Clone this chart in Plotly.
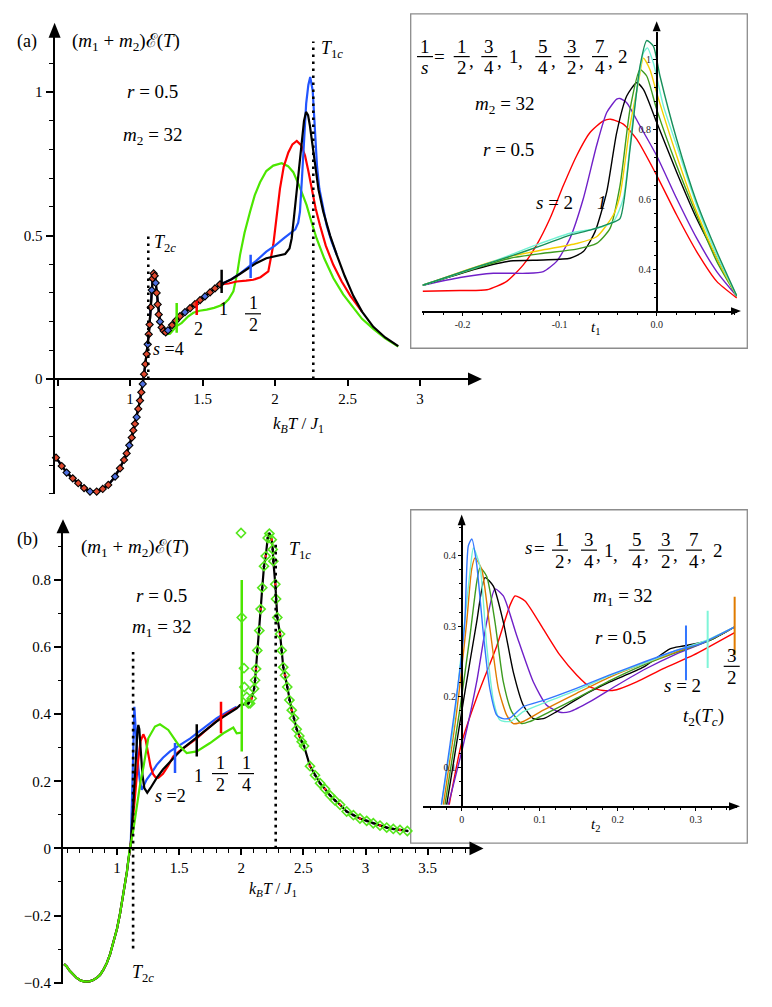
import plotly.graph_objects as go

W, H = 772, 1007
SERIF = "Liberation Serif"

# ---------------- panel (a) main : m2 = 32, r = 0.5 ----------------
# shared low-T branch (diamond points sit on it)
a_common_x = [0.49, 0.529, 0.563, 0.605, 0.643, 0.683, 0.724, 0.770, 0.812, 0.850,
              0.897, 0.931, 0.959, 0.977, 0.995, 1.012, 1.023, 1.034, 1.046, 1.057,
              1.069, 1.078, 1.088, 1.097, 1.106, 1.115, 1.122, 1.129, 1.135, 1.143,
              1.150, 1.156, 1.163, 1.170, 1.177, 1.184, 1.191, 1.198, 1.207, 1.218,
              1.232, 1.246, 1.262, 1.290, 1.317, 1.345, 1.379, 1.414, 1.448, 1.483,
              1.517, 1.552, 1.586, 1.621]
a_common_y = [-0.274, -0.303, -0.326, -0.346, -0.363, -0.380, -0.392, -0.392, -0.383, -0.369,
              -0.340, -0.311, -0.282, -0.259, -0.231, -0.204, -0.179, -0.156, -0.133, -0.104,
              -0.075, -0.046, -0.017, 0.017, 0.052, 0.087, 0.121, 0.156, 0.190, 0.250,
              0.310, 0.350, 0.368, 0.360, 0.335, 0.300, 0.260, 0.225, 0.200, 0.180,
              0.168, 0.163, 0.170, 0.188, 0.204, 0.219, 0.233, 0.247, 0.261, 0.275,
              0.288, 0.302, 0.316, 0.330]

a_black_x = [1.66, 1.70, 1.76, 1.81, 1.87, 1.94, 1.99, 2.03, 2.07, 2.10, 2.115, 2.13, 2.15,
             2.17, 2.184, 2.20, 2.214, 2.228, 2.241, 2.26, 2.276, 2.30, 2.333, 2.38, 2.426,
             2.48, 2.54, 2.60, 2.678, 2.76, 2.85]
a_black_y = [0.338, 0.348, 0.367, 0.385, 0.404, 0.421, 0.427, 0.430, 0.436, 0.455, 0.490, 0.56,
             0.663, 0.77, 0.836, 0.90, 0.931, 0.92, 0.882, 0.81, 0.744, 0.66, 0.583, 0.50, 0.433,
             0.36, 0.29, 0.235, 0.182, 0.145, 0.115]

a_blue_x = [1.66, 1.70, 1.76, 1.81, 1.87, 1.94, 2.00, 2.06, 2.10, 2.14, 2.16, 2.172, 2.186,
            2.20, 2.215, 2.23, 2.243, 2.26, 2.276, 2.29, 2.306, 2.33, 2.356, 2.39, 2.426]
a_blue_y = [0.338, 0.348, 0.368, 0.387, 0.412, 0.444, 0.465, 0.490, 0.505, 0.522, 0.545, 0.583,
            0.70, 0.836, 0.96, 1.025, 1.053, 1.005, 0.836, 0.74, 0.663, 0.595, 0.536, 0.48, 0.433]

a_red_x = [1.68, 1.736, 1.80, 1.85, 1.90, 1.954, 1.988, 2.01, 2.034, 2.06, 2.092, 2.12, 2.150,
           2.18, 2.207, 2.23, 2.253, 2.28, 2.310, 2.35, 2.402, 2.46, 2.52, 2.60]
a_red_y = [0.333, 0.340, 0.343, 0.346, 0.355, 0.375, 0.467, 0.56, 0.663, 0.74, 0.790, 0.818, 0.830,
           0.815, 0.779, 0.725, 0.663, 0.595, 0.536, 0.465, 0.398, 0.34, 0.29, 0.235]

a_green_x = [1.25, 1.276, 1.30, 1.322, 1.357, 1.40, 1.437, 1.48, 1.529, 1.58, 1.644, 1.68, 1.713,
             1.74, 1.759, 1.79, 1.828, 1.86, 1.897, 1.94, 1.988, 2.046, 2.09, 2.126, 2.17, 2.218,
             2.25, 2.287, 2.34, 2.402, 2.47, 2.540, 2.60, 2.678, 2.76, 2.85]
a_green_y = [0.156, 0.158, 0.172, 0.185, 0.196, 0.218, 0.231, 0.238, 0.242, 0.248, 0.260, 0.278, 0.306,
             0.37, 0.433, 0.51, 0.583, 0.64, 0.686, 0.725, 0.744, 0.752, 0.742, 0.721, 0.67, 0.606,
             0.55, 0.490, 0.42, 0.352, 0.295, 0.248, 0.21, 0.175, 0.142, 0.113]

a_bar_x = [1.322, 1.46, 1.632, 1.832]
a_bar_lo = [0.161, 0.223, 0.300, 0.352]
a_bar_hi = [0.265, 0.273, 0.381, 0.433]
a_bar_c = ["#4ce600", "#ff0000", "#000000", "#2255ff"]

a_T2c, a_T2c_top = 1.126, 0.50
a_T1c, a_T1c_top = 2.264, 1.176

# ---------------- panel (a) inset : against t1 ----------------
ia_red_x = [-0.2412, -0.2027, -0.175, -0.1546, -0.1375, -0.1237, -0.110, -0.0962, -0.0825, -0.0687,
            -0.055, -0.0474, -0.0344, -0.0206, 0.0, 0.0206, 0.0412, 0.0619, 0.0825]
ia_red_y = [0.339, 0.341, 0.343, 0.367, 0.414, 0.471, 0.546, 0.640, 0.725, 0.791,
            0.824, 0.829, 0.815, 0.772, 0.669, 0.556, 0.452, 0.367, 0.320]
ia_purple_x = [-0.2412, -0.2027, -0.1684, -0.134, -0.1168, -0.1031, -0.0893, -0.0756, -0.0619, -0.0515,
               -0.0412, -0.0378, -0.0309, -0.0172, 0.0, 0.0206, 0.0412, 0.0619, 0.0825]
ia_purple_y = [0.356, 0.378, 0.390, 0.390, 0.395, 0.424, 0.490, 0.603, 0.754, 0.848,
               0.886, 0.888, 0.876, 0.810, 0.725, 0.603, 0.490, 0.395, 0.325]
ia_black_x = [-0.2412, -0.1856, -0.1512, -0.1168, -0.0893, -0.0756, -0.0636, -0.0515, -0.0412, -0.0309,
              -0.0206, -0.0137, 0.0, 0.0206, 0.0412, 0.0619, 0.0825]
ia_black_y = [0.356, 0.403, 0.425, 0.428, 0.433, 0.452, 0.508, 0.622, 0.791, 0.895,
              0.933, 0.914, 0.820, 0.678, 0.546, 0.433, 0.325]
ia_green_x = [-0.2412, -0.1856, -0.1512, -0.1168, -0.0825, -0.0619, -0.0481, -0.0378, -0.0275, -0.0172,
              -0.0103, 0.0, 0.0206, 0.0412, 0.0619, 0.0825]
ia_green_y = [0.356, 0.405, 0.433, 0.447, 0.459, 0.475, 0.518, 0.640, 0.857, 0.970,
              0.952, 0.857, 0.697, 0.556, 0.424, 0.325]
ia_gold_x = [-0.2412, -0.1856, -0.1512, -0.1168, -0.0825, -0.0619, -0.0447, -0.0378, -0.0275, -0.0189,
             -0.0137, -0.0069, 0.0, 0.0206, 0.0412, 0.0619, 0.0825]
ia_gold_y = [0.356, 0.409, 0.438, 0.457, 0.475, 0.494, 0.556, 0.612, 0.810, 0.933,
             1.003, 0.970, 0.904, 0.725, 0.565, 0.433, 0.325]
ia_aqua_x = [-0.2412, -0.1856, -0.1512, -0.124, -0.0893, -0.0619, -0.0447, -0.0344, -0.0241, -0.0137,
             -0.0096, -0.0034, 0.0069, 0.0206, 0.0412, 0.0619, 0.0825]
ia_aqua_y = [0.356, 0.407, 0.442, 0.471, 0.504, 0.518, 0.537, 0.603, 0.838, 1.018,
             1.032, 0.989, 0.867, 0.754, 0.584, 0.442, 0.325]
ia_teal_x = [-0.2412, -0.1856, -0.1512, -0.1168, -0.0893, -0.0687, -0.0481, -0.0378, -0.0275, -0.0172,
             -0.0103, -0.0034, 0.0034, 0.0206, 0.0412, 0.0619, 0.0825]
ia_teal_y = [0.356, 0.408, 0.438, 0.471, 0.499, 0.513, 0.532, 0.546, 0.744, 0.980,
             1.053, 1.037, 0.952, 0.772, 0.593, 0.452, 0.326]

# ---------------- panel (b) main : m1 = 32, r = 0.5 ----------------
b_common_x = [0.575, 0.596, 0.62, 0.65, 0.676, 0.71, 0.743, 0.78, 0.81, 0.84, 0.864, 0.89,
              0.918, 0.945, 0.971, 1.00, 1.025, 1.045, 1.065, 1.08, 1.091, 1.10]
b_common_y = [-0.345, -0.352, -0.365, -0.377, -0.386, -0.394, -0.397, -0.396, -0.392, -0.385,
              -0.377, -0.362, -0.342, -0.315, -0.283, -0.24, -0.194, -0.152, -0.106, -0.07,
              -0.037, -0.01]

b_black_x = [1.111, 1.13, 1.15, 1.165, 1.172, 1.18, 1.19, 1.205, 1.22, 1.244, 1.27, 1.32, 1.37,
             1.427, 1.48, 1.534, 1.59, 1.642, 1.70, 1.749, 1.80, 1.856, 1.91, 1.963]
b_black_y = [0.013, 0.12, 0.26, 0.35, 0.368, 0.355, 0.30, 0.22, 0.18, 0.166, 0.18, 0.210, 0.235,
             0.259, 0.279, 0.299, 0.316, 0.333, 0.348, 0.363, 0.378, 0.392, 0.405, 0.417]
b_blue_x = [1.111, 1.125, 1.14, 1.15, 1.16, 1.172, 1.185, 1.199, 1.22, 1.239, 1.28, 1.320, 1.37,
            1.427, 1.48, 1.534, 1.59, 1.642, 1.72, 1.803, 1.88, 1.963]
b_blue_y = [0.013, 0.20, 0.422, 0.36, 0.29, 0.240, 0.20, 0.175, 0.19, 0.205, 0.226, 0.249, 0.270,
            0.289, 0.302, 0.314, 0.328, 0.343, 0.365, 0.388, 0.405, 0.422]
b_red_x = [1.111, 1.13, 1.15, 1.17, 1.19, 1.212, 1.23, 1.25, 1.27, 1.29, 1.31, 1.333, 1.37, 1.41,
           1.453, 1.50, 1.56, 1.642, 1.70, 1.76, 1.829, 1.90, 1.963]
b_red_y = [0.013, 0.09, 0.18, 0.26, 0.32, 0.340, 0.325, 0.285, 0.245, 0.222, 0.212, 0.210, 0.222,
           0.245, 0.274, 0.289, 0.305, 0.328, 0.347, 0.366, 0.388, 0.405, 0.419]
b_green_x = [1.13, 1.16, 1.19, 1.212, 1.252, 1.306, 1.346, 1.413, 1.494, 1.561, 1.642, 1.749,
             1.856, 1.936, 1.963, 2.004]
b_green_y = [0.05, 0.13, 0.20, 0.24, 0.328, 0.363, 0.370, 0.353, 0.309, 0.284, 0.289, 0.314,
             0.343, 0.360, 0.343, 0.345]

# high-T branch shared by all s (diamond points sit on it)
b_tail_x = [1.963, 1.99, 2.03, 2.057, 2.084, 2.103, 2.111, 2.119, 2.129, 2.145, 2.156, 2.169, 2.183,
            2.197, 2.213, 2.226, 2.245, 2.253, 2.258, 2.274, 2.280, 2.290, 2.312, 2.325, 2.338,
            2.352, 2.370, 2.387, 2.406, 2.424, 2.446, 2.467, 2.486, 2.505, 2.553, 2.593, 2.634,
            2.674, 2.714, 2.754, 2.795, 2.848, 2.902, 2.955, 3.009, 3.062, 3.116, 3.170, 3.223,
            3.277, 3.336]
b_tail_y = [0.418, 0.427, 0.430, 0.432, 0.447, 0.476, 0.501, 0.535, 0.590, 0.649, 0.713, 0.777, 0.841,
            0.871, 0.925, 0.938, 0.920, 0.891, 0.856, 0.787, 0.743, 0.688, 0.639, 0.590, 0.540,
            0.516, 0.481, 0.442, 0.412, 0.388, 0.355, 0.335, 0.318, 0.305, 0.245, 0.218, 0.194,
            0.177, 0.158, 0.143, 0.130, 0.110, 0.099, 0.089, 0.082, 0.075, 0.068, 0.062, 0.058,
            0.055, 0.052]
b_spike_x = [1.998, 2.004, 2.022, 2.025, 2.044, 2.071]
b_spike_y = [0.940, 0.688, 0.537, 0.481, 0.451, 0.432]

b_bar_x = [1.467, 1.642, 1.837, 2.004]
b_bar_lo = [0.225, 0.274, 0.343, 0.289]
b_bar_hi = [0.314, 0.370, 0.437, 0.800]
b_bar_c = ["#2255ff", "#000000", "#ff0000", "#4ce600"]

b_T2c, b_T2c_lo, b_T2c_hi = 1.13, -0.298, 0.585
b_T1c, b_T1c_hi = 2.277, 0.915

# ---------------- panel (b) inset : against t2 ----------------
ib_blue_x = [-0.026, -0.015, -0.002, 0.004, 0.0085, 0.013, 0.019, 0.028, 0.036, 0.045, 0.053, 0.062,
             0.079, 0.105, 0.147, 0.190, 0.233, 0.276, 0.306, 0.350]
ib_blue_y = [0.047, 0.132, 0.240, 0.306, 0.414, 0.424, 0.390, 0.287, 0.212, 0.174, 0.169, 0.170,
             0.186, 0.195, 0.212, 0.231, 0.249, 0.266, 0.275, 0.299]
ib_aqua_x = [-0.026, -0.011, 0.002, 0.011, 0.015, 0.0235, 0.032, 0.041, 0.049, 0.062, 0.079, 0.105,
             0.147, 0.190, 0.233, 0.276, 0.316, 0.350]
ib_aqua_y = [0.047, 0.155, 0.287, 0.381, 0.411, 0.385, 0.273, 0.193, 0.167, 0.165, 0.179, 0.191,
             0.209, 0.230, 0.247, 0.266, 0.281, 0.299]
ib_orange_x = [-0.0235, -0.0064, 0.0064, 0.0128, 0.0171, 0.0256, 0.0363, 0.047, 0.0577, 0.0662,
               0.079, 0.1047, 0.1474, 0.190, 0.233, 0.2756, 0.318, 0.350]
ib_orange_y = [0.047, 0.179, 0.306, 0.381, 0.397, 0.381, 0.296, 0.212, 0.174, 0.162,
               0.165, 0.181, 0.205, 0.228, 0.247, 0.264, 0.281, 0.299]
ib_green_x = [-0.0214, -0.0021, 0.0107, 0.0192, 0.0235, 0.032, 0.0427, 0.0534, 0.0641, 0.0769,
              0.0876, 0.1132, 0.1474, 0.190, 0.233, 0.2756, 0.318, 0.350]
ib_green_y = [0.047, 0.184, 0.287, 0.362, 0.383, 0.371, 0.306, 0.221, 0.179, 0.162,
              0.165, 0.179, 0.198, 0.223, 0.245, 0.263, 0.280, 0.299]
ib_black_x = [-0.0192, 0.0021, 0.0192, 0.0299, 0.0406, 0.0534, 0.0662, 0.079, 0.0919, 0.1047,
              0.1218, 0.156, 0.190, 0.233, 0.267, 0.284, 0.318, 0.350]
ib_black_y = [0.047, 0.193, 0.306, 0.369, 0.357, 0.306, 0.235, 0.188, 0.169, 0.169,
              0.179, 0.202, 0.221, 0.242, 0.268, 0.272, 0.280, 0.299]
ib_purple_x = [-0.0171, 0.0021, 0.0192, 0.032, 0.0427, 0.0534, 0.0705, 0.0919, 0.109, 0.126,
               0.1389, 0.1645, 0.1987, 0.233, 0.2756, 0.318, 0.350]
ib_purple_y = [0.047, 0.132, 0.221, 0.306, 0.353, 0.343, 0.287, 0.221, 0.188, 0.178,
               0.179, 0.193, 0.216, 0.238, 0.261, 0.280, 0.299]
ib_red_x = [-0.016, 0.0, 0.019, 0.045, 0.062, 0.0684, 0.0812, 0.1047, 0.126, 0.1474, 0.1645,
            0.1816, 0.1987, 0.2244, 0.2585, 0.297, 0.350]
ib_red_y = [0.047, 0.135, 0.198, 0.272, 0.330, 0.343, 0.336, 0.296, 0.259, 0.231, 0.214,
            0.209, 0.210, 0.221, 0.240, 0.259, 0.291]

ib_bar_x = [0.2876, 0.3154, 0.350]
ib_bar_lo = [0.2235, 0.241, 0.259]
ib_bar_hi = [0.301, 0.322, 0.342]
ib_bar_c = ["#3377ff", "#7ff5d8", "#e07b00"]

RED, BLUE, GREEN = "#ff0000", "#2255ff", "#4ce600"
PURPLE, OLIVE, GOLD, AQUA, TEAL = "#7020c8", "#3d9b1f", "#f5d000", "#72f2d4", "#178f5a"
ORANGE, LBLUE = "#e07b00", "#3377ff"

# ---------------- layout helpers (pixel frame of the figure) ----------------
panels = {
    # name: (px left, px right, px top, px bottom, x range, y range)
    "a": (54.6, 472.2, 37.0, 497.3, [0.48, 3.36], [-0.40, 1.193]),
    "ai": (422.4, 737.0, 32.0, 313.3, [-0.2415, 0.0828], [0.2823, 1.078]),
    "b": (63.0, 470.0, 536.0, 991.2, [0.566, 3.840], [-0.405, 0.942]),
    "bi": (423.0, 737.0, 528.0, 812.0, [-0.0496, 0.353], [0.0446, 0.4446]),
}


def px_of(p, xv):
    l, r, t, b, xr, yr = panels[p]
    return l + (xv - xr[0]) / (xr[1] - xr[0]) * (r - l)


def py_of(p, yv):
    l, r, t, b, xr, yr = panels[p]
    return t + (yr[1] - yv) / (yr[1] - yr[0]) * (b - t)


fig = go.Figure()
AX = {"a": ("x", "y"), "ai": ("x2", "y2"), "b": ("x3", "y3"), "bi": ("x4", "y4")}


def curve(p, x, y, color, width=2.2, shape="linear"):
    xa, ya = AX[p]
    fig.add_trace(go.Scatter(x=x, y=y, mode="lines", xaxis=xa, yaxis=ya,
                             line=dict(color=color, width=width, shape=shape, smoothing=0.6),
                             hoverinfo="skip", showlegend=False))


def bars(p, xs, lo, hi, colors, width=2.5):
    xa, ya = AX[p]
    for xv, a, b, c in zip(xs, lo, hi, colors):
        fig.add_trace(go.Scatter(x=[xv, xv], y=[a, b], mode="lines", xaxis=xa, yaxis=ya,
                                 line=dict(color=c, width=width), hoverinfo="skip", showlegend=False))


def dotted(p, xv, lo, hi):
    xa, ya = AX[p]
    fig.add_trace(go.Scatter(x=[xv, xv], y=[lo, hi], mode="lines", xaxis=xa, yaxis=ya,
                             line=dict(color="black", width=2.6, dash="2.6px,4.4px"),
                             hoverinfo="skip", showlegend=False))


# ---- panel (a) main
n_g = sum(1 for v in a_common_x if v <= 1.232)
curve("a", a_common_x[:n_g] + a_green_x, a_common_y[:n_g] + a_green_y, GREEN)
curve("a", a_common_x + a_red_x, a_common_y + a_red_y, RED)
curve("a", a_common_x + a_blue_x, a_common_y + a_blue_y, BLUE)
curve("a", a_common_x + a_black_x, a_common_y + a_black_y, "black")
fig.add_trace(go.Scatter(x=a_common_x, y=a_common_y, mode="markers", xaxis="x", yaxis="y",
                         cliponaxis=False, hoverinfo="skip", showlegend=False,
                         marker=dict(symbol="diamond", size=5.5,
                                     color=["#4d6fe0" if i % 4 == 2 else "#e0482e"
                                            for i in range(len(a_common_x))],
                                     line=dict(color="black", width=1.1))))
bars("a", a_bar_x, a_bar_lo, a_bar_hi, a_bar_c)
dotted("a", a_T2c, 0, a_T2c_top)
dotted("a", a_T1c, 0, a_T1c_top)

# ---- panel (a) inset
for xs, ys, c in [(ia_red_x, ia_red_y, RED), (ia_purple_x, ia_purple_y, PURPLE),
                  (ia_black_x, ia_black_y, "black"), (ia_green_x, ia_green_y, OLIVE),
                  (ia_gold_x, ia_gold_y, GOLD), (ia_aqua_x, ia_aqua_y, AQUA),
                  (ia_teal_x, ia_teal_y, TEAL)]:
    curve("ai", xs, ys, c, width=1.4, shape="spline")

# ---- panel (b) main
curve("b", b_common_x + b_blue_x, b_common_y + b_blue_y, BLUE)
curve("b", b_common_x + b_red_x, b_common_y + b_red_y, RED)
curve("b", b_common_x + b_black_x + b_tail_x[1:], b_common_y + b_black_y + b_tail_y[1:], "black")
curve("b", b_common_x + b_green_x, b_common_y + b_green_y, GREEN)
bars("b", b_bar_x, b_bar_lo, b_bar_hi, b_bar_c)
fig.add_trace(go.Scatter(x=b_tail_x[3:] + b_spike_x, y=b_tail_y[3:] + b_spike_y, mode="markers",
                         xaxis="x3", yaxis="y3", cliponaxis=False, hoverinfo="skip", showlegend=False,
                         marker=dict(symbol="diamond-open", size=7, color="#55e61c",
                                     line=dict(width=1.6))))
fig.add_trace(go.Scatter(x=b_tail_x[3:], y=b_tail_y[3:], mode="markers", xaxis="x3", yaxis="y3",
                         cliponaxis=False, hoverinfo="skip", showlegend=False,
                         marker=dict(symbol="circle", size=2.6,
                                     color=["#ff2020" if i % 3 == 1 else "black"
                                            for i in range(len(b_tail_x) - 3)])))
dotted("b", b_T2c, b_T2c_lo, b_T2c_hi)
dotted("b", b_T1c, 0, b_T1c_hi)

# ---- panel (b) inset
for xs, ys, c in [(ib_red_x, ib_red_y, RED), (ib_purple_x, ib_purple_y, PURPLE),
                  (ib_black_x, ib_black_y, "black"), (ib_green_x, ib_green_y, OLIVE),
                  (ib_orange_x, ib_orange_y, ORANGE), (ib_aqua_x, ib_aqua_y, AQUA),
                  (ib_blue_x, ib_blue_y, LBLUE)]:
    curve("bi", xs, ys, c, width=1.4, shape="spline")
bars("bi", ib_bar_x, ib_bar_lo, ib_bar_hi, ib_bar_c, width=2.0)

# ---------------- axes ----------------
main_font = dict(family=SERIF, size=15, color="black")
ins_font = dict(family=SERIF, size=10, color="#222")


def axis_common(lw):
    return dict(showline=True, linecolor="black", linewidth=lw, showgrid=False, zeroline=False,
                ticks="outside", tickcolor="black", fixedrange=True)


lay = {}
for key, p in [("xaxis", "a"), ("xaxis2", "ai"), ("xaxis3", "b"), ("xaxis4", "bi")]:
    l, r, t, b, xr, yr = panels[p]
    lay[key] = dict(domain=[l / W, r / W], range=xr)
for key, p in [("yaxis", "a"), ("yaxis2", "ai"), ("yaxis3", "b"), ("yaxis4", "bi")]:
    l, r, t, b, xr, yr = panels[p]
    lay[key] = dict(domain=[1 - b / H, 1 - t / H], range=yr)

lay["xaxis"].update(axis_common(2), anchor="free", position=1 - py_of("a", 0) / H,
                    tickvals=[0.5, 1, 1.5, 2, 2.5, 3], ticktext=[" ", "1", "1.5", "2", "2.5", "3"],
                    ticklen=6, tickwidth=1.6, tickfont=main_font)
lay["yaxis"].update(axis_common(2), anchor="x", tickvals=[0, 0.5, 1], ticktext=["0", "0.5", "1"],
                    ticklen=7, tickwidth=1.6, tickfont=main_font,
                    minor=dict(dtick=0.1, ticklen=3.5, tickwidth=1.3, tickcolor="black", ticks="outside"))
lay["xaxis3"].update(axis_common(2), anchor="free", position=1 - py_of("b", 0) / H,
                     tickvals=[1, 1.5, 2, 2.5, 3, 3.5], ticktext=["1", "1.5", "2", "2.5", "3", "3.5"],
                     ticklen=6, tickwidth=1.6, tickfont=main_font,
                     minor=dict(dtick=0.1, ticklen=3.5, tickwidth=1.3, tickcolor="black", ticks="outside"))
lay["yaxis3"].update(axis_common(2), anchor="x3",
                     tickvals=[-0.4, -0.2, 0, 0.2, 0.4, 0.6, 0.8],
                     ticktext=["\u22120.4", "\u22120.2", "0", "0.2", "0.4", "0.6", "0.8"],
                     ticklen=7, tickwidth=1.6, tickfont=main_font,
                     minor=dict(dtick=0.1, ticklen=3.5, tickwidth=1.3, tickcolor="black", ticks="outside"))
lay["xaxis2"].update(axis_common(1.5), anchor="y2", tickvals=[-0.2, -0.1, 0.0],
                     ticktext=["-0.2", "-0.1", "0.0"], ticklen=3, tickwidth=1, tickfont=ins_font,
                     minor=dict(dtick=0.02, ticklen=2, tickwidth=1, tickcolor="black", ticks="outside"))
lay["yaxis2"].update(axis_common(1.5), anchor="free", position=px_of("ai", 0) / W,
                     tickvals=[0.4, 0.6, 0.8, 1.0], ticktext=["0.4", "0.6", "0.8", "1"],
                     ticklen=3, tickwidth=1, tickfont=ins_font,
                     minor=dict(dtick=0.04, ticklen=2, tickwidth=1, tickcolor="black", ticks="outside"))
lay["xaxis4"].update(axis_common(1.5), anchor="y4", tickvals=[0, 0.1, 0.2, 0.3],
                     ticktext=["0", "0.1", "0.2", "0.3"], ticklen=3, tickwidth=1, tickfont=ins_font,
                     minor=dict(dtick=0.02, ticklen=2, tickwidth=1, tickcolor="black", ticks="outside"))
lay["yaxis4"].update(axis_common(1.5), anchor="free", position=px_of("bi", 0) / W,
                     tickvals=[0.1, 0.2, 0.3, 0.4], ticktext=["0.1", "0.2", "0.3", "0.4"],
                     ticklen=3, tickwidth=1, tickfont=ins_font,
                     minor=dict(dtick=0.02, ticklen=2, tickwidth=1, tickcolor="black", ticks="outside"))

# ---------------- shapes: arrowheads, inset frames, fraction bars ----------------
shapes = []


def P(x, y):
    return "%.5f,%.5f" % (x / W, 1 - y / H)


def arrow(tip_x, tip_y, direction, length, half):
    if direction == "right":
        pts = [(tip_x, tip_y), (tip_x - length, tip_y - half), (tip_x - length, tip_y + half)]
    else:
        pts = [(tip_x, tip_y), (tip_x - half, tip_y + length), (tip_x + half, tip_y + length)]
    path = "M " + " L ".join(P(*q) for q in pts) + " Z"
    shapes.append(dict(type="path", path=path, xref="paper", yref="paper",
                       fillcolor="black", line=dict(width=0), layer="above"))


arrow(482, py_of("a", 0), "right", 14, 6.5)
arrow(panels["a"][0], 23, "up", 15, 6)
arrow(483.5, py_of("b", 0), "right", 14, 7)
arrow(panels["b"][0], 523, "up", 14, 6.5)
arrow(741, panels["ai"][3], "right", 10, 4)
arrow(px_of("ai", 0), 21.5, "up", 10, 4)
arrow(740, panels["bi"][3], "right", 11, 4.2)
arrow(px_of("bi", 0), 518, "up", 11, 4)

for (x0, y0, x1, y1) in [(410.7, 14, 747.3, 350.7), (410.7, 513.3, 747.3, 849)]:
    shapes.append(dict(type="rect", xref="paper", yref="paper", x0=x0 / W, x1=x1 / W,
                       y0=1 - y1 / H, y1=1 - y0 / H, line=dict(color="#8c8c8c", width=1.3),
                       fillcolor="rgba(0,0,0,0)", layer="below"))

annotations = []


def txt(x, y, s, size=18, anchor="center"):
    annotations.append(dict(x=x / W, y=1 - y / H, xref="paper", yref="paper", text=s,
                            showarrow=False, xanchor=anchor, yanchor="middle",
                            font=dict(family=SERIF, size=size, color="black")))


def frac(x, y, num, den, size=19, w=16):
    txt(x, y - 10.5, num, size)
    txt(x, y + 11, den, size)
    shapes.append(dict(type="line", xref="paper", yref="paper", x0=(x - w / 2) / W, x1=(x + w / 2) / W,
                       y0=1 - y / H, y1=1 - y / H, line=dict(color="black", width=1.2)))


E_LABEL = "(<i>m</i><sub>1</sub> + <i>m</i><sub>2</sub>)\u2130(<i>T</i>)"
KT = "<i>k</i><sub><i>B</i></sub><i>T</i> / <i>J</i><sub>1</sub>"

# panel (a) text
txt(27, 42, "(a)")
txt(126, 42, E_LABEL, 19)
txt(152, 92, "<i>r</i> = 0.5", 19)
txt(153, 137, "<i>m</i><sub>2</sub> = 32", 19)
txt(332, 50, "<i>T</i><sub>1<i>c</i></sub>")
txt(165, 245, "<i>T</i><sub>2<i>c</i></sub>")
txt(168, 351, "<i>s</i> =4")
txt(198, 331, "2")
txt(223, 311, "1")
frac(253, 316, "1", "2", size=18)
txt(298, 428, KT, 17)

# panel (a) inset text
frac(425, 57, "1", "<i>s</i>")
txt(439, 57, "=", 19)
for cx, n, d in [(461.7, "1", "2"), (489.3, "3", "4"), (543.3, "5", "4"),
                 (571.7, "3", "2"), (600.0, "7", "4")]:
    frac(cx, 57, n, d)
    txt(cx + 10, 61, ",", 19)
txt(514, 57, "1", 19)
txt(520, 61, ",", 19)
txt(623.3, 57, "2", 19)
txt(505, 106, "<i>m</i><sub>2</sub> = 32", 19)
txt(508, 151, "<i>r</i> = 0.5", 19)
txt(554, 204, "<i>s</i> = 2", 19)
txt(602, 204, "<i>1</i>", 19)
txt(595, 330, "<i>t</i><sub>1</sub>", 15)

# panel (b) text
txt(28, 543, "(b)")
txt(135, 552, E_LABEL, 19)
txt(161, 600, "<i>r</i> = 0.5", 19)
txt(162, 632, "<i>m</i><sub>1</sub> = 32", 19)
txt(300, 554, "<i>T</i><sub>1<i>c</i></sub>")
txt(143, 980, "<i>T</i><sub>2<i>c</i></sub>")
txt(170, 802, "<i>s</i> =2")
txt(198, 781, "1")
frac(220, 779, "1", "2", size=18)
frac(246, 779, "1", "4", size=18)
txt(273, 896, KT, 16)

# panel (b) inset text
txt(528, 551, "<i>s</i>", 19)
txt(539, 552, "=", 19)
for cx, n, d in [(560.0, "1", "2"), (589.0, "3", "4"), (636.7, "5", "4"),
                 (666.0, "3", "2"), (694.0, "7", "4")]:
    frac(cx, 554, n, d)
    txt(cx + 9.5, 558, ",", 19)
txt(609.3, 554, "1", 19)
txt(615, 558, ",", 19)
txt(718.3, 554, "2", 19)
txt(623, 601, "<i>m</i><sub>1</sub> = 32", 19)
txt(620, 642, "<i>r</i> = 0.5", 19)
txt(682, 690, "<i>s</i> = 2", 19)
frac(731.7, 671, "3", "2")
txt(703, 722, "<i>t</i><sub>2</sub>(<i>T</i><sub><i>c</i></sub>)", 19)
txt(595, 831, "<i>t</i><sub>2</sub>", 15)

fig.update_layout(width=W, height=H, margin=dict(l=0, r=0, t=0, b=0),
                  paper_bgcolor="white", plot_bgcolor="rgba(0,0,0,0)",
                  font=dict(family=SERIF),
                  showlegend=False, shapes=shapes, annotations=annotations, **lay)

# the page's default body margin would push the figure 8px right/down
fig.write_html("out.html", config={"displayModeBar": False},
               post_script="document.body.style.margin='0';")
